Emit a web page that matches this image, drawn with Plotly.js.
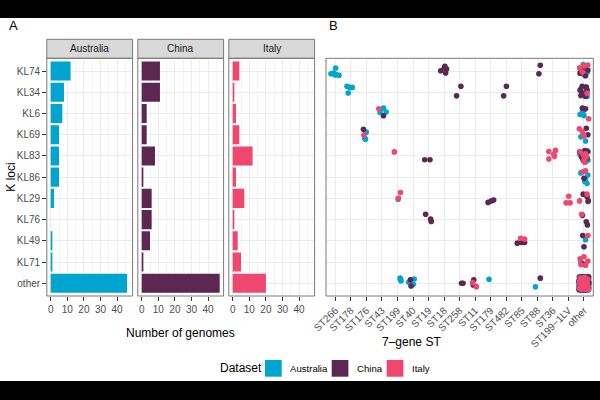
<!DOCTYPE html>
<html>
<head>
<meta charset="utf-8">
<script src="https://cdn.plot.ly/plotly-3.0.1.min.js"></script>
<style>
  html, body { margin: 0; padding: 0; background: #000; width: 600px; height: 400px; overflow: hidden; }
  #chart { position: absolute; left: 0; top: 18px; width: 600px; height: 363px; background: #fff; }
</style>
</head>
<body>
<div id="chart"></div>
<script>
// ---- categories ----
const klLoci = ["KL74", "KL34", "KL6", "KL69", "KL83", "KL86", "KL29", "KL76", "KL49", "KL71", "other"];
const stTypes = ["ST266", "ST178", "ST176", "ST43", "ST199", "ST40", "ST19", "ST18", "ST258",
                 "ST11", "ST179", "ST482", "ST85", "ST88", "ST36", "ST199\u22121LV", "other"];
const datasets = ["Australia", "China", "Italy"];
const datasetColors = ["#00A5CF", "#5C2751", "#EF476F"];

// ---- genomes per K locus (panel A), ordered as klLoci ----
const ausCounts   = [12, 8, 7, 5, 5, 5, 2, 0, 1, 1, 46];
const chinaCounts = [11, 11, 3, 3, 8, 1, 6, 6, 5, 1, 47];
const italyCounts = [4, 1, 2, 4, 12, 2, 7, 1, 3, 5, 20];

// ---- genomes by ST and K locus (panel B): [ST, K locus, jitter x, jitter y] ----
const LV = "ST199\u22121LV";
const ausPoints = [
  ["ST266","KL74",0.02,-0.14],["ST266","KL74",-0.11,0.09],["ST266","KL74",-0.28,0.13],
  ["ST266","KL74",0.06,0.17],["ST266","KL74",0.24,0.2],["ST266","KL74",-0.04,0.17],
  ["ST178","KL34",-0.25,-0.28],["ST178","KL34",-0.08,-0.23],["ST178","KL34",0.09,-0.23],["ST178","KL34",-0.17,0.04],
  ["ST43","KL6",-0.12,-0.05],["ST43","KL6",0.1,-0.25],["ST43","KL6",0.27,-0.07],
  ["ST176","KL69",-0.01,-0.12],["ST176","KL69",-0.12,0.16],["ST176","KL69",-0.06,0.21],
  ["ST199","KL29",0.04,0.04],
  ["ST199","other",0.17,-0.24],["ST199","other",0.23,-0.11],["ST199","other",0.2,-0.17],
  ["ST40","other",-0.28,-0.05],["ST40","other",0.08,-0.2],["ST40","other",0.02,0.05],
  ["ST179","other",-0.11,-0.19],["ST88","other",-0.12,0.17],
  ["other","KL74",-0.05,-0.3],["other","KL74",0.1,-0.22],["other","KL74",-0.2,-0.1],
  ["other","KL74",0.22,0.05],["other","KL74",-0.12,0.12],["other","KL74",0.05,0.2],
  ["other","KL34",0.0,0.05],["other","KL34",-0.2,-0.15],["other","KL34",0.2,0.2],["other","KL34",0.1,-0.25],
  ["other","KL6",-0.25,0.05],["other","KL6",-0.15,0.0],["other","KL6",-0.05,-0.12],["other","KL6",0.0,0.1],
  ["other","KL69",0.1,0.3],["other","KL69",-0.2,0.1],
  ["other","KL83",-0.25,-0.05],["other","KL83",0.25,0.2],["other","KL83",0.1,0.28],["other","KL83",-0.1,0.1],["other","KL83",0.2,-0.25],
  ["other","KL86",0.05,0.2],["other","KL86",0.2,0.3],["other","KL86",0.25,-0.1],["other","KL86",-0.2,-0.2],["other","KL86",0.1,0.1],
  ["other","KL29",0.25,0.15],["other","KL49",0.1,-0.05],["other","KL71",-0.2,0.0],
  ["other","other",-0.3,-0.3],["other","other",-0.1,-0.32],["other","other",0.1,-0.3],["other","other",0.28,-0.28],
  ["other","other",-0.28,-0.15],["other","other",-0.05,-0.18],["other","other",0.15,-0.15],["other","other",0.3,-0.1],
  ["other","other",-0.32,0.0],["other","other",-0.15,0.02],["other","other",0.05,-0.02],["other","other",0.22,0.03],
  ["other","other",-0.3,0.15],["other","other",-0.08,0.18],["other","other",0.12,0.14],["other","other",0.3,0.18],
  ["other","other",-0.25,0.3],["other","other",-0.02,0.32],["other","other",0.18,0.3],["other","other",0.3,0.3],
  ["other","other",-0.2,-0.25],["other","other",0.0,-0.08],["other","other",0.2,-0.22],["other","other",-0.18,0.08],
  ["other","other",0.1,0.25],["other","other",-0.12,-0.05],["other","other",0.25,-0.02],["other","other",-0.28,0.25],
  ["other","other",0.02,0.1],["other","other",0.28,0.08],["other","other",-0.05,0.25],["other","other",0.15,0.02],
  ["other","other",-0.22,-0.08],["other","other",0.08,-0.25],["other","other",-0.3,0.08],["other","other",0.3,-0.2],
  ["other","other",-0.1,0.32],["other","other",0.2,0.32]
];
const chinaPoints = [
  ["ST43","KL6",0.1,0.11],["ST176","KL69",-0.19,-0.26],
  ["ST40","other",-0.17,-0.16],["ST40","other",-0.13,0.13],
  ["ST18","KL74",-0.22,-0.01],["ST18","KL74",0.05,-0.22],["ST18","KL74",0.16,-0.09],["ST18","KL74",0.1,0.09],["ST18","KL74",0.01,-0.14],
  ["ST258","KL34",0.08,-0.28],["ST258","KL34",-0.2,0.17],
  ["ST19","KL83",-0.25,0.18],["ST19","KL83",0.09,0.18],
  ["ST19","KL76",-0.19,-0.25],["ST19","KL76",0.13,-0.02],["ST19","KL76",0.17,0.09],
  ["ST179","KL29",-0.17,0.19],["ST179","KL29",0.04,0.12],["ST179","KL29",0.19,0.08],
  ["ST258","other",0.12,0.0],["ST258","other",0.22,0.0],
  ["ST11","other",-0.09,-0.16],["ST11","other",-0.13,0.08],
  ["ST482","KL34",0.01,-0.28],["ST482","KL34",-0.17,0.17],
  ["ST88","KL74",0.19,-0.27],["ST88","KL74",0.1,0.13],
  ["ST85","KL49",-0.29,0.11],["ST85","KL49",-0.03,0.08],["ST85","KL49",0.18,0.08],
  ["ST88","other",0.19,-0.24],
  ["other","KL74",-0.25,0.1],["other","KL74",0.25,-0.05],["other","KL74",0.1,0.22],["other","KL74",-0.1,-0.05],
  ["other","KL34",-0.12,-0.28],["other","KL34",0.15,-0.25],["other","KL34",-0.25,-0.1],["other","KL34",0.2,-0.1],
  ["other","KL34",0.0,0.05],["other","KL34",-0.2,0.15],["other","KL34",0.1,0.2],
  ["other","KL6",-0.1,-0.25],["other","KL6",0.1,-0.22],
  ["other","KL69",0.15,-0.3],["other","KL69",0.25,0.0],
  ["other","KL83",-0.28,-0.18],["other","KL83",0.05,-0.25],["other","KL83",0.25,-0.2],
  ["other","KL83",-0.15,0.05],["other","KL83",0.2,0.1],["other","KL83",-0.05,0.2],
  ["other","KL86",0.0,0.05],
  ["other","KL29",-0.05,-0.2],["other","KL29",0.2,-0.08],["other","KL29",0.28,0.12],
  ["other","KL76",-0.1,-0.2],["other","KL76",0.15,0.1],["other","KL76",0.22,0.25],
  ["other","KL49",-0.08,-0.25],["other","KL49",0.0,0.28],
  ["other","KL71",-0.05,0.1],
  ["other","other",-0.28,-0.28],["other","other",-0.05,-0.3],["other","other",0.15,-0.28],["other","other",0.3,-0.3],
  ["other","other",-0.32,-0.12],["other","other",-0.12,-0.15],["other","other",0.08,-0.12],["other","other",0.25,-0.15],
  ["other","other",-0.25,0.02],["other","other",-0.02,0.0],["other","other",0.18,0.05],["other","other",0.32,-0.02],
  ["other","other",-0.3,0.18],["other","other",-0.1,0.12],["other","other",0.1,0.2],["other","other",0.28,0.12],
  ["other","other",-0.2,0.3],["other","other",0.05,0.3],["other","other",0.25,0.28],["other","other",-0.32,0.3],
  ["other","other",-0.15,-0.3],["other","other",0.22,-0.22],["other","other",-0.2,-0.05],["other","other",0.12,-0.02],
  ["other","other",-0.08,0.25],["other","other",0.3,0.22],["other","other",-0.28,0.1],["other","other",0.0,0.15],
  ["other","other",0.2,-0.08],["other","other",-0.18,0.2],["other","other",0.1,-0.3],["other","other",-0.3,-0.05],
  ["other","other",0.15,0.32],["other","other",-0.05,-0.22],["other","other",0.3,0.05],["other","other",-0.12,0.32],
  ["other","other",0.05,-0.05],["other","other",-0.22,-0.2],["other","other",0.25,-0.25],["other","other",0.08,0.1]
];
const italyPoints = [
  ["ST43","KL6",-0.2,-0.22],["ST176","KL69",-0.16,0.02],["ST199","KL83",-0.2,-0.19],
  ["ST199","KL29",0.19,-0.28],["ST199","KL29",0.06,-0.01],
  ["ST11","other",-0.17,-0.03],["ST11","other",0.08,0.16],
  ["ST36","KL83",-0.26,-0.21],["ST36","KL83",0.17,-0.26],["ST36","KL83",0.06,-0.08],["ST36","KL83",0.1,0.02],["ST36","KL83",-0.26,0.15],
  [LV,"KL29",0.02,-0.1],[LV,"KL29",-0.15,0.21],[LV,"KL29",0.11,0.21],
  ["ST85","KL49",-0.08,-0.12],["ST85","KL49",0.18,-0.08],
  ["other","KL74",-0.28,-0.15],["other","KL74",0.0,-0.25],["other","KL74",0.25,-0.28],["other","KL74",-0.1,0.05],
  ["other","KL34",0.2,0.05],["other","KL6",0.3,0.25],
  ["other","KL69",-0.3,-0.28],["other","KL69",-0.1,-0.15],["other","KL69",0.0,0.05],
  ["other","KL83",-0.05,-0.05],["other","KL83",0.15,0.05],["other","KL83",0.0,0.2],
  ["other","KL83",-0.25,-0.2],["other","KL83",0.1,-0.1],["other","KL83",0.05,0.3],
  ["other","KL86",-0.05,-0.25],["other","KL86",0.1,-0.3],
  ["other","KL29",-0.28,0.12],["other","KL29",0.2,-0.2],
  ["other","KL76",-0.15,-0.25],["other","KL49",0.25,-0.25],
  ["other","KL71",-0.25,-0.15],["other","KL71",0.0,-0.25],["other","KL71",0.25,-0.05],["other","KL71",-0.2,0.12],["other","KL71",0.1,0.15],
  ["other","other",-0.25,-0.25],["other","other",0.05,-0.28],["other","other",0.25,-0.2],["other","other",-0.3,-0.05],
  ["other","other",-0.05,-0.1],["other","other",0.2,-0.02],["other","other",-0.25,0.12],["other","other",0.0,0.1],
  ["other","other",0.25,0.15],["other","other",-0.15,0.28],["other","other",0.1,0.28],["other","other",-0.1,-0.25],
  ["other","other",0.15,-0.12],["other","other",-0.2,0.02],["other","other",0.05,0.2],["other","other",0.28,0.3],
  ["other","other",-0.28,0.25],["other","other",0.2,0.05]
];

const countsByDataset = [ausCounts, chinaCounts, italyCounts];
const pointsByDataset = [ausPoints, chinaPoints, italyPoints];

// ---- styling ----
const FONT = "Liberation Sans, Arial, Helvetica, sans-serif";
const GRID = "#EBEBEB";
const BORDER = "#7A7A7A";
const TICKTXT = "#4D4D4D";
const W = 600, H = 363;
const px = v => v / W;           // pixel x -> paper
const py = v => 1 - v / H;       // pixel y -> paper

const panelY = [py(278), py(40.3)];
const stripY = [py(40.3), py(21.3)];
const facetX = [[46.8, 132.6], [137.8, 223.6], [228.8, 314.6]];
const scatterX = [326, 593.3];

const traces = [];
const suffix = ["", "2", "3"];

// bar facets
countsByDataset.forEach((counts, d) => {
  traces.push({
    type: "bar", orientation: "h",
    x: counts, y: klLoci.map((_, i) => i),
    width: 0.9,
    xaxis: "x" + suffix[d], yaxis: "y" + suffix[d],
    marker: { color: datasetColors[d], line: { width: 0 } },
    name: datasets[d], showlegend: false, hoverinfo: "x+name"
  });
});

// jittered genomes by ST / K locus
pointsByDataset.forEach((pts, d) => {
  traces.push({
    type: "scatter", mode: "markers",
    x: pts.map(p => stTypes.indexOf(p[0]) + p[2]),
    y: pts.map(p => klLoci.indexOf(p[1]) + p[3]),
    xaxis: "x4", yaxis: "y4",
    marker: { color: datasetColors[d], size: 5.6, line: { width: 0 } },
    name: datasets[d], showlegend: false
  });
});

const tickFont = { family: FONT, size: 10, color: TICKTXT };

function barXAxis(i, showTicks) {
  return {
    domain: [px(facetX[i][0]), px(facetX[i][1])],
    anchor: "y" + suffix[i],
    range: [-2.35, 49.35],
    tickvals: [0, 10, 20, 30, 40],
    ticks: "outside", ticklen: 3.7, tickwidth: 1, tickcolor: "#333",
    tickfont: tickFont,
    showgrid: true, gridcolor: GRID, gridwidth: 1,
    minor: { tickvals: [5, 15, 25, 35, 45], showgrid: true, gridcolor: GRID, gridwidth: 0.6, ticks: "" },
    zeroline: false, showline: false, fixedrange: true
  };
}
function barYAxis(i) {
  return {
    domain: panelY,
    anchor: "x" + suffix[i],
    range: [10.6, -0.6],
    tickvals: klLoci.map((_, k) => k),
    ticktext: klLoci,
    showticklabels: i === 0,
    ticks: i === 0 ? "outside" : "", ticklen: 3.7, tickwidth: 1, tickcolor: "#333",
    tickfont: tickFont,
    showgrid: true, gridcolor: GRID, gridwidth: 1,
    zeroline: false, showline: false, fixedrange: true
  };
}

const layout = {
  width: W, height: H,
  margin: { l: 0, r: 0, t: 0, b: 0 },
  paper_bgcolor: "#ffffff", plot_bgcolor: "#ffffff",
  font: { family: FONT, color: "#000" },
  bargap: 0.1,
  xaxis: barXAxis(0), yaxis: barYAxis(0),
  xaxis2: barXAxis(1), yaxis2: barYAxis(1),
  xaxis3: barXAxis(2), yaxis3: barYAxis(2),
  xaxis4: {
    domain: [px(scatterX[0]), px(scatterX[1])],
    anchor: "y4",
    range: [-0.6, 16.6],
    tickvals: stTypes.map((_, k) => k),
    ticktext: stTypes,
    tickangle: -45,
    ticks: "outside", ticklen: 3.7, tickwidth: 1, tickcolor: "#333",
    tickfont: tickFont,
    showgrid: true, gridcolor: GRID, gridwidth: 1,
    zeroline: false, showline: false, fixedrange: true
  },
  yaxis4: {
    domain: panelY,
    anchor: "x4",
    range: [10.6, -0.6],
    tickvals: klLoci.map((_, k) => k),
    showticklabels: false, ticks: "",
    showgrid: true, gridcolor: GRID, gridwidth: 1,
    zeroline: false, showline: false, fixedrange: true
  },
  shapes: [],
  annotations: []
};

// panel borders and facet strips
["x", "x2", "x3", "x4"].forEach((ax, i) => {
  const yax = "y" + (i === 0 ? "" : String(i + 1));
  layout.shapes.push({
    type: "rect", xref: ax + " domain", yref: yax + " domain",
    x0: 0, x1: 1, y0: 0, y1: 1,
    line: { color: BORDER, width: 1 }, fillcolor: "rgba(0,0,0,0)", layer: "above"
  });
});
datasets.forEach((name, i) => {
  layout.shapes.push({
    type: "rect", xref: "paper", yref: "paper",
    x0: px(facetX[i][0]), x1: px(facetX[i][1]), y0: stripY[0], y1: stripY[1],
    line: { color: BORDER, width: 1 }, fillcolor: "#D9D9D9", layer: "below"
  });
  layout.annotations.push({
    xref: "paper", yref: "paper",
    x: px((facetX[i][0] + facetX[i][1]) / 2), y: (stripY[0] + stripY[1]) / 2,
    text: name, showarrow: false, xanchor: "center", yanchor: "middle",
    font: { family: FONT, size: 10, color: "#1A1A1A" }
  });
});

// panel tags and axis titles
const textAnn = (text, x, y, size, opts) => Object.assign({
  xref: "paper", yref: "paper", x: x, y: y, text: text, showarrow: false,
  xanchor: "center", yanchor: "middle", font: { family: FONT, size: size, color: "#000" }
}, opts || {});
layout.annotations.push(textAnn("A", px(6.5), py(7.5), 13, { xanchor: "left" }));
layout.annotations.push(textAnn("B", px(326.5), py(7.5), 13, { xanchor: "left" }));
layout.annotations.push(textAnn("K loci", px(10.7), py(159), 12, { textangle: -90 }));
layout.annotations.push(textAnn("Number of genomes", px(180.7), py(314.5), 12));
layout.annotations.push(textAnn("7\u2013gene ST", px(411), py(324), 12));

// legend
layout.annotations.push(textAnn("Dataset", px(218), py(350.3), 12, { xanchor: "left" }));
const keyLeft = [265, 331.7, 386.7];
const labelLeft = [288, 355, 410];
datasets.forEach((name, i) => {
  layout.shapes.push({
    type: "rect", xref: "paper", yref: "paper",
    x0: px(keyLeft[i]), x1: px(keyLeft[i] + 16.7), y0: py(358.7), y1: py(342),
    line: { width: 0 }, fillcolor: datasetColors[i]
  });
  layout.annotations.push(textAnn(name, px(labelLeft[i]), py(350.3), 9.6, { xanchor: "left" }));
});

Plotly.newPlot("chart", traces, layout, { displayModeBar: false, staticPlot: true });
</script>
</body>
</html>
